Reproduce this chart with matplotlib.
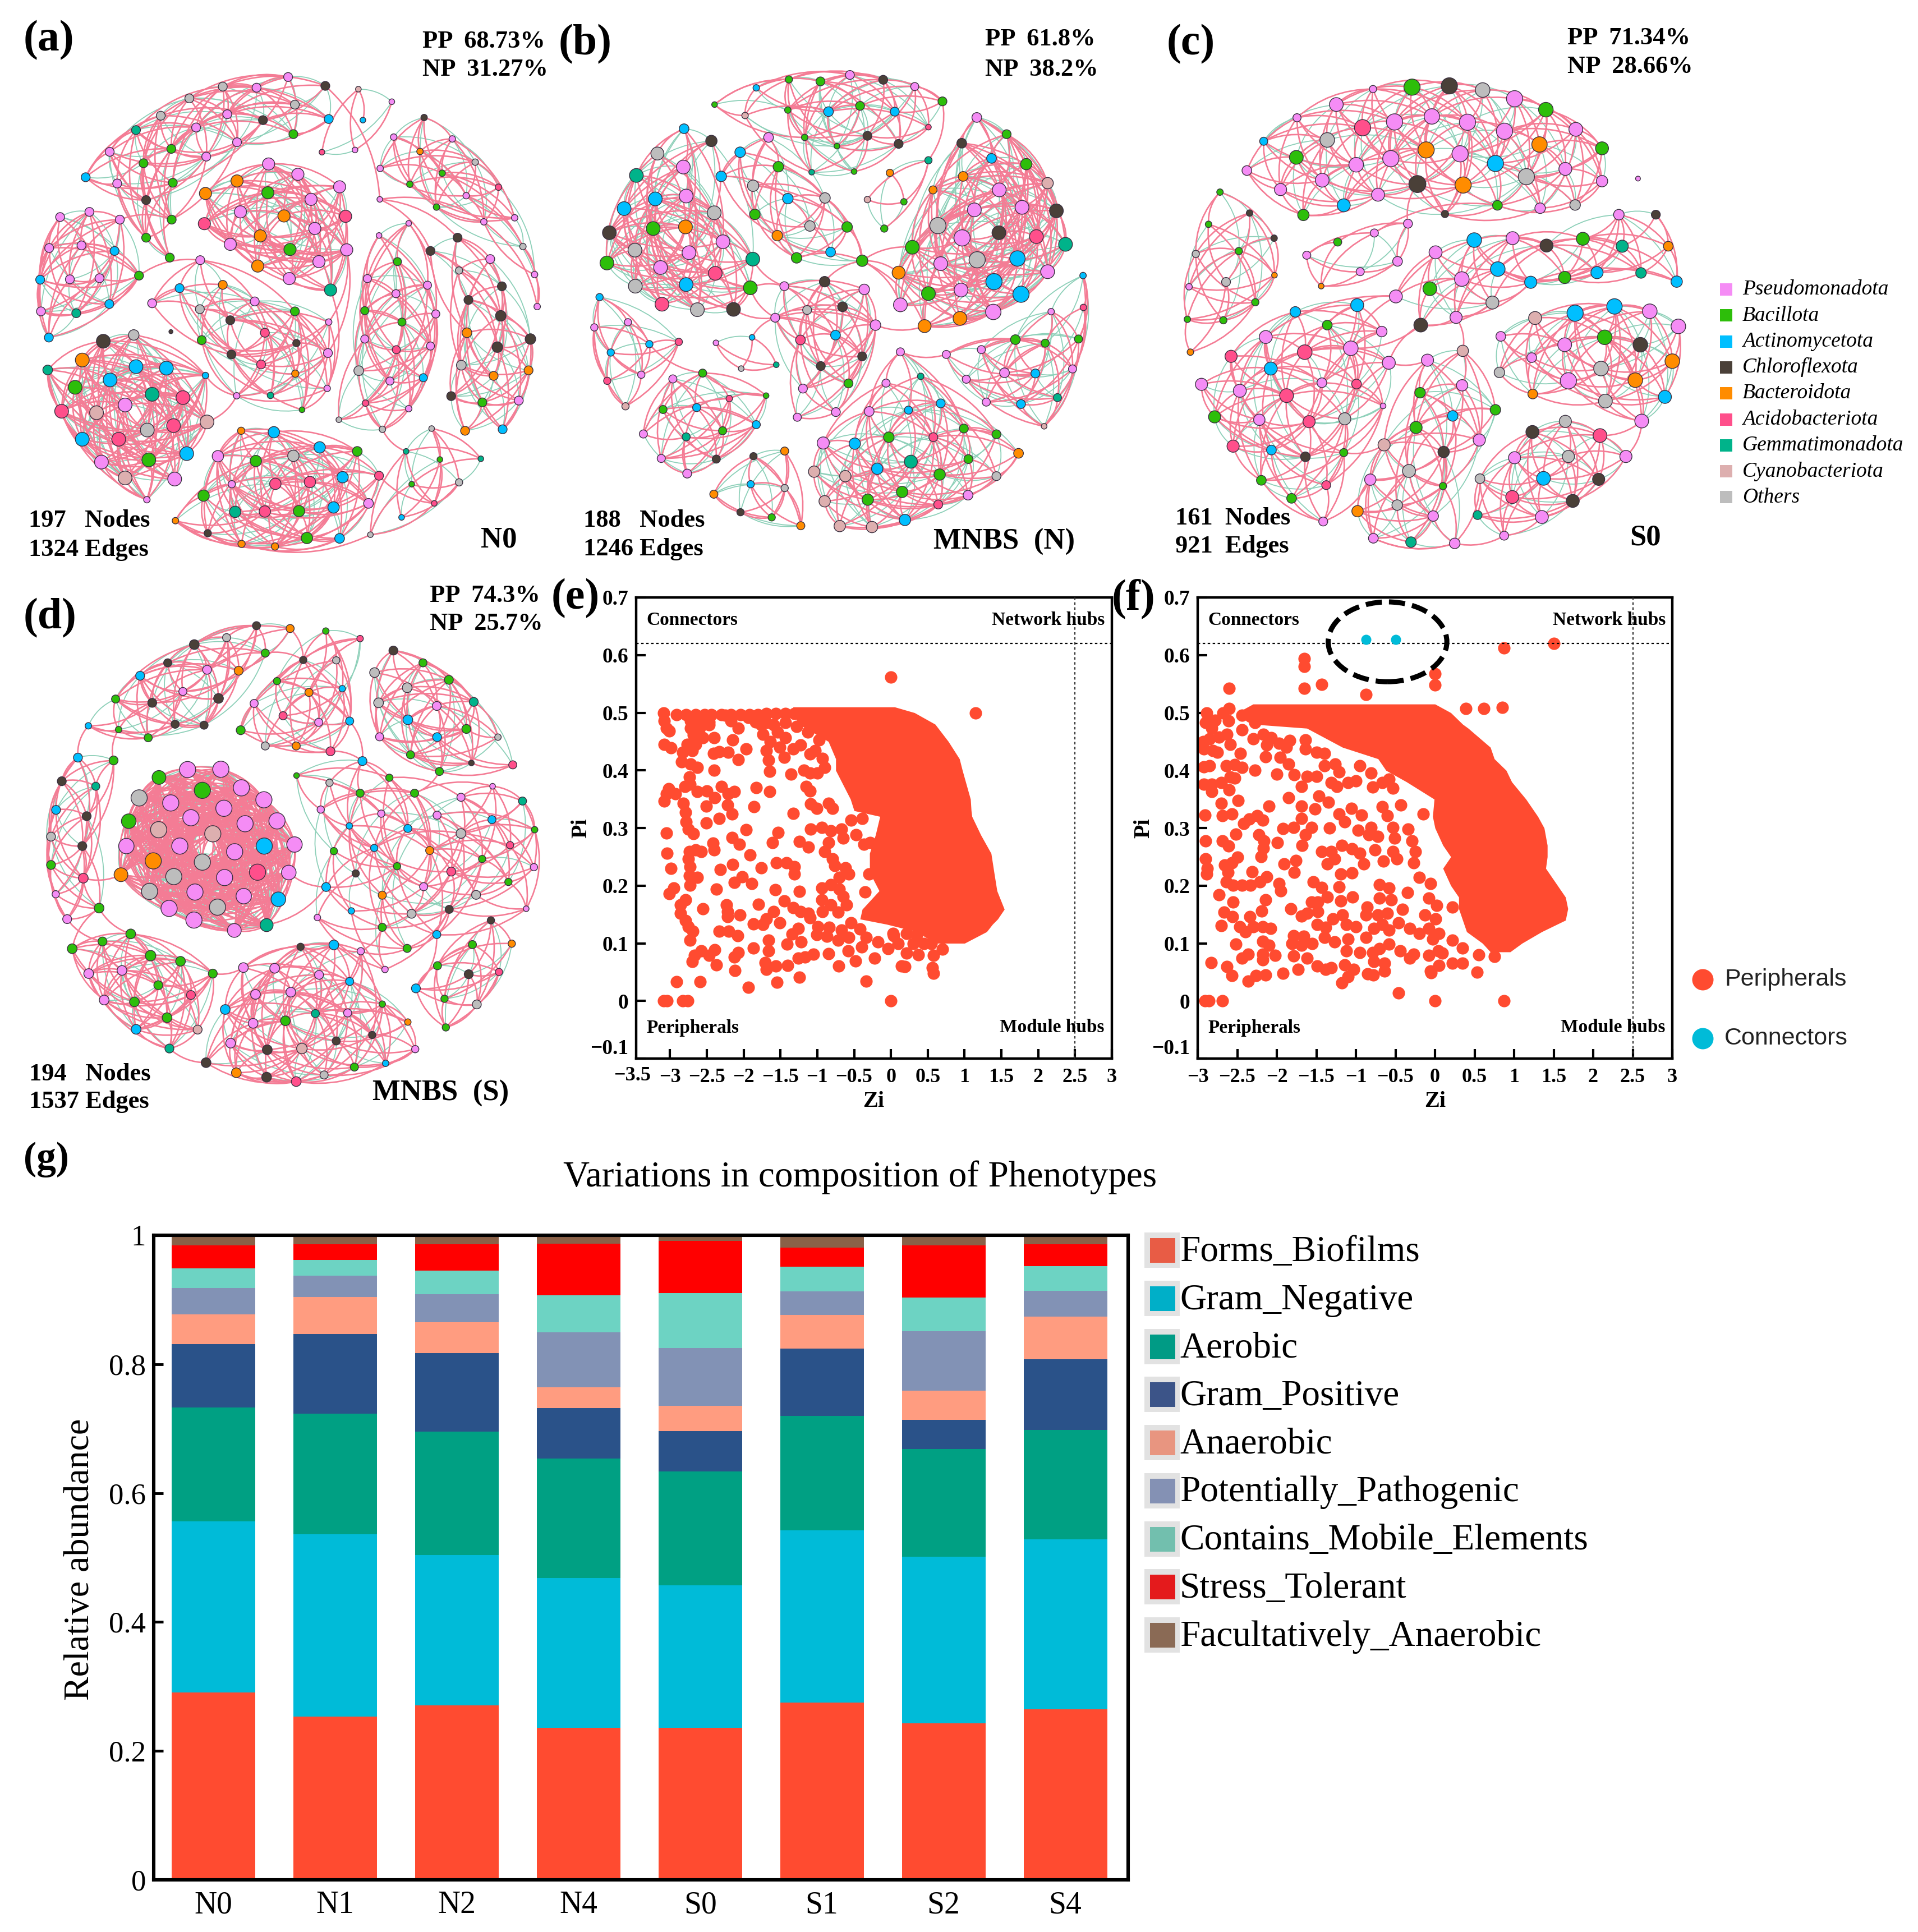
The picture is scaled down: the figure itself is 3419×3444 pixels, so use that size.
import numpy as np
import matplotlib
matplotlib.use("Agg")
import matplotlib.pyplot as plt
from matplotlib.path import Path
from matplotlib.collections import PathCollection
from matplotlib.patches import Ellipse, Rectangle

W, H = 3419, 3444
plt.rcParams['font.family'] = ['Liberation Serif', 'DejaVu Sans']

# ---------- phenotype data ----------
samples = ["N0", "N1", "N2", "N4", "S0", "S1", "S2", "S4"]
phenotypes = ["Forms_Biofilms", "Gram_Negative", "Aerobic", "Gram_Positive", "Anaerobic",
              "Potentially_Pathogenic", "Contains_Mobile_Elements", "Stress_Tolerant", "Facultatively_Anaerobic"]
forms_biofilms = [.291, .253, .271, .236, .236, .275, .243, .265]
gram_negative = [.265, .283, .233, .232, .221, .267, .258, .263]
aerobic = [.177, .187, .191, .186, .177, .178, .167, .170]
gram_positive = [.098, .124, .122, .078, .062, .104, .046, .110]
anaerobic = [.046, .057, .048, .032, .039, .052, .045, .066]
pot_pathogenic = [.041, .033, .044, .085, .090, .037, .092, .040]
mobile_elements = [.031, .025, .036, .058, .085, .038, .052, .038]
stress_tolerant = [.035, .024, .041, .080, .081, .030, .081, .034]
fac_anaerobic = [.016, .014, .014, .013, .009, .019, .016, .014]
pheno_values = [forms_biofilms, gram_negative, aerobic, gram_positive, anaerobic,
                pot_pathogenic, mobile_elements, stress_tolerant, fac_anaerobic]
bar_colors = ['#FF4B30', '#00BBD8', '#00A083', '#2A5289', '#FF9C80', '#8292B5', '#6DD3C3', '#FF0000', '#8A6148']
legend_colors = ['#E85C45', '#00AFC8', '#009B85', '#3C5488', '#E89580', '#8491B4', '#72BFAE', '#E41A1C', '#8A6A55']

# ---------- taxa ----------
taxa = ["Pseudomonadota", "Bacillota", "Actinomycetota", "Chloroflexota", "Bacteroidota",
        "Acidobacteriota", "Gemmatimonadota", "Cyanobacteriota", "Others"]
taxa_colors = dict(P='#F58CF5', B='#2DBE0A', A='#00BFFF', C='#4A4038', O='#FF8C00',
                   R='#FF4F8B', G='#00B38A', Y='#DDAFAF', X='#BDBDBD')
taxa_codes = "PBACORGYX"

# ---------- networks: each module = (node radius, edge density /10, nodes) ----------
net_a = [
 (11, 6, [(767,209,'P'),(866,233,'C'),(683,238,'P'),(593,235,'X'),(504,267,'X'),(785,284,'X'),(605,310,'P'),(428,314,'X'),(700,326,'C'),(875,323,'A'),(522,346,'P'),(362,353,'G'),(781,364,'B'),(631,386,'P'),(456,404,'B'),(549,425,'P'),(292,412,'P'),(382,443,'B'),(228,481,'A'),(312,498,'P'),(460,496,'B'),(389,543,'C'),(457,596,'B'),(389,645,'B'),(452,699,'B')]),
 (15, 9, [(715,445,'P'),(793,473,'P'),(904,507,'P'),(631,491,'O'),(547,525,'O'),(713,523,'B'),(828,541,'P'),(640,575,'P'),(756,586,'O'),(920,587,'R'),(544,607,'R'),(693,640,'O'),(838,620,'P'),(613,663,'P'),(772,677,'B'),(923,678,'P'),(849,710,'P'),(686,722,'O'),(770,756,'P'),(880,787,'G')]),
 (11, 6, [(238,575,'P'),(160,589,'P'),(319,596,'P'),(131,673,'P'),(217,666,'P'),(305,681,'A'),(107,759,'A'),(186,758,'P'),(265,755,'P'),(370,748,'B'),(109,845,'P'),(203,850,'G'),(291,825,'A'),(130,916,'A')]),
 (11, 5, [(533,706,'P'),(593,773,'O'),(478,782,'A'),(405,823,'P'),(678,818,'P'),(532,839,'X'),(613,869,'C'),(537,923,'B'),(705,903,'R'),(616,962,'C'),(695,989,'R'),(785,845,'B'),(875,874,'P',8),(789,931,'C',9),(873,958,'P'),(786,1014,'O',9),(630,1074,'P',8),(720,1073,'G',8),(871,1054,'P',8),(804,1112,'B',7)]),
 (7, 5, [(954,242,'Y'),(1043,276,'P'),(966,326,'A'),(945,407,'P'),(857,413,'R')]),
 (8, 6, [(1129,319,'C'),(1048,372,'P'),(1204,377,'P'),(1118,411,'O'),(1012,457,'P'),(1265,440,'X'),(1177,470,'B'),(1091,500,'B'),(1327,508,'R'),(1241,531,'P'),(1162,562,'B'),(1288,602,'P'),(1370,591,'P'),(1392,669,'X'),(1423,745,'P'),(1430,832,'P')]),
 (10, 6, [(1088,606,'P',7),(1009,639,'P',7),(1058,710,'B'),(978,756,'P'),(1138,774,'P'),(1054,797,'P'),(971,843,'B'),(1160,852,'P'),(1070,874,'B'),(971,920,'P'),(1146,939,'P'),(1055,949,'R'),(955,1006,'X',12),(1038,1034,'P'),(1127,1025,'A'),(973,1094,'R',8),(1088,1109,'P',8),(902,1139,'X',7),(1018,1165,'X',8)]),
 (11, 6, [(1218,645,'C'),(1146,681,'C'),(1305,703,'P'),(1222,734,'X',9),(1336,777,'C'),(1247,814,'C'),(1333,857,'C',13),(1243,903,'O',12),(1412,920,'C',13),(1324,942,'C',13),(1228,991,'X',12),(1407,1005,'O'),(1314,1020,'O'),(1201,1075,'C'),(1381,1087,'P'),(1284,1092,'B'),(1238,1169,'O'),(1338,1165,'A')]),
 (7, 5, [(1149,1163,'X'),(1081,1225,'G'),(1171,1247,'B'),(1280,1245,'G'),(1222,1309,'X',9),(1096,1314,'B'),(1156,1366,'R'),(1069,1404,'A'),(986,1451,'X')]),
 (17, 9, [(275,926,'C'),(356,909,'X',13),(127,1004,'G',12),(219,977,'O'),(362,995,'A'),(443,999,'A'),(293,1031,'A'),(200,1051,'B'),(405,1070,'G'),(487,1079,'R'),(333,1099,'P'),(164,1116,'R'),(257,1120,'Y'),(462,1155,'R'),(392,1167,'X'),(551,1145,'Y'),(219,1192,'A'),(316,1192,'R'),(497,1231,'A'),(270,1254,'P'),(396,1248,'B'),(333,1297,'Y'),(465,1300,'P'),(391,1356,'P',8),(547,1019,'A',8)]),
 (14, 6, [(642,1169,'O',9),(729,1173,'A'),(851,1214,'A'),(580,1238,'P'),(681,1251,'B'),(781,1237,'X'),(951,1225,'B',12),(912,1295,'A'),(733,1313,'R'),(825,1308,'R'),(617,1314,'P',9),(1009,1291,'R',11),(542,1345,'B'),(626,1389,'G'),(705,1388,'R'),(796,1387,'B'),(888,1377,'A'),(981,1366,'P',12),(467,1413,'O',8),(553,1447,'C',9),(643,1476,'O',9),(732,1483,'O',9),(817,1460,'B'),(904,1461,'A',12)]),
 (5, 0, [(455,900,'C')]),
 (7, 0, [(1011,541,'P')]),
]
links_a = [(866,233,1011,541),(1011,541,1218,645),(1011,541,1146,681),(1081,1225,1018,1165),(880,787,871,1054),(923,678,875,874),(923,678,873,958),(544,607,613,663),(319,596,457,596),(370,748,533,706),(1009,1291,1156,1366),(1069,1404,1222,1309),(405,823,478,782),(547,1019,630,1074),(551,1145,630,1074),(1011,541,1288,602),(553,1447,732,1483),(467,1413,817,1460),(643,1476,986,1451),(132,916,265,755)]
net_b = [
 (9, 6, [(650,90,'B'),(740,96,'B',11),(824,76,'P',11),(919,91,'C',11),(1009,112,'P',10),(1088,158,'B',11),(557,116,'A',8),(438,168,'B',7),(853,172,'B',11),(763,190,'A',12),(952,190,'A',11),(647,185,'B',8),(525,202,'Y',8),(1048,238,'R',7),(874,265,'C',11),(963,290,'C',11),(695,270,'B',8),(787,297,'B',7),(836,376,'B',7),(715,378,'G',7)]),
 (17, 9, [(351,243,'A',12),(429,281,'C',14),(275,320,'X',16),(349,362,'P'),(215,388,'G'),(357,452,'P'),(269,461,'A'),(180,491,'A'),(437,504,'X'),(138,566,'C'),(263,553,'B'),(355,548,'O'),(462,594,'P'),(211,620,'X'),(365,628,'P'),(131,660,'B'),(284,674,'P'),(440,692,'R'),(547,648,'G'),(212,732,'X'),(357,727,'A'),(540,737,'B'),(288,788,'R'),(389,805,'X'),(492,804,'C')]),
 (12, 6, [(592,270,'P'),(511,316,'A',13),(620,361,'B',13),(457,391,'A',13),(548,420,'X',14),(647,460,'A',13),(753,458,'X',13),(553,509,'B',13),(710,545,'X',13),(816,548,'B',13),(617,575,'O',13),(769,626,'A',12),(672,644,'B',13),(859,653,'B',14)]),
 (11, 7, [(637,732,'P'),(752,718,'C',13),(865,742,'P',13),(702,806,'X'),(803,796,'C',12),(611,830,'P'),(897,853,'P',13),(683,899,'R',12),(783,884,'A',12),(859,950,'C'),(741,980,'C'),(820,1034,'B'),(690,1050,'P'),(674,1139,'P',10),(784,1123,'P')]),
 (17, 9, [(1186,208,'P',12),(1271,260,'B',11),(1143,288,'C',12),(1228,335,'A',12),(1327,353,'B',14),(1147,391,'O',12),(1388,412,'Y',14),(1250,433,'P'),(1061,433,'O',10),(1179,495,'P'),(1315,487,'P'),(1413,498,'C'),(1075,544,'X',20),(1249,566,'C'),(1144,582,'P',20),(1356,578,'R'),(1439,602,'G'),(1002,611,'B'),(1187,650,'X',20),(1302,646,'A',19),(1083,662,'P'),(963,690,'O',16),(1388,687,'P'),(1235,718,'A',20),(1141,744,'P'),(1048,755,'B'),(1312,757,'A',20),(968,790,'P'),(1233,812,'P',19),(1138,832,'O'),(1037,856,'O',16)]),
 (8, 7, [(1048,341,'G',9),(938,380,'O',9),(874,463,'Y',8),(978,470,'B',8),(922,553,'B',9)]),
 (9, 7, [(110,766,'A'),(95,860,'P'),(191,844,'P'),(252,912,'A'),(142,938,'A'),(336,905,'R'),(229,1007,'P'),(132,1026,'R'),(184,1105,'Y')]),
 (10, 6, [(404,1002,'B'),(319,1020,'P'),(480,1081,'R',8),(387,1109,'A'),(291,1115,'B'),(557,1162,'A'),(461,1181,'B'),(235,1191,'P'),(357,1200,'G'),(443,1269,'C'),(286,1267,'P'),(360,1314,'P',11),(585,1072,'B',7)]),
 (7, 8, [(442,908,'P'),(545,891,'A'),(614,976,'G'),(514,988,'X')]),
 (10, 6, [(1489,699,'A',8),(1398,811,'P',8),(1490,798,'R',8),(1099,944,'P'),(1199,929,'P'),(1296,898,'B',12),(1381,909,'B'),(1476,896,'B'),(1265,1001,'P',12),(1353,1003,'A',11),(1459,989,'P'),(1156,1021,'P'),(1213,1092,'P'),(1312,1098,'A',11),(1416,1078,'G'),(1378,1167,'Y',7)]),
 (9, 7, [(549,1260,'C'),(638,1244,'O',10),(541,1347,'A'),(638,1359,'X'),(436,1378,'O',10),(512,1434,'C'),(601,1450,'B'),(684,1476,'O',10)]),
 (13, 6, [(968,936,'P',10),(1026,1012,'G',8),(927,1033,'P',10),(879,1121,'P',12),(991,1117,'A',10),(1083,1096,'A',11),(1062,1201,'R',11),(1149,1174,'B',11),(1242,1192,'B',11),(935,1201,'B'),(748,1219,'P',15),(838,1221,'A',14),(1305,1251,'O',12),(998,1277,'G',16),(1162,1269,'B',11),(902,1299,'A',14),(722,1308,'Y',14),(811,1322,'Y',14),(1080,1317,'B',14),(1242,1322,'X',11),(973,1371,'B',14),(875,1395,'B',14),(752,1400,'Y',14),(1161,1381,'P',12),(1076,1410,'R',11),(981,1458,'A',14),(795,1477,'Y',14),(887,1480,'Y',14)]),
]
links_b = [(859,653,963,690),(859,653,968,790),(859,653,1037,856),(540,737,637,732),(492,804,611,830),(547,648,637,732),(1099,944,968,936),(611,830,545,891),(683,899,611,830),(1002,611,859,653),(816,548,859,653),(438,168,650,90),(1088,158,1048,341),(859,653,672,644),(540,737,611,830),(859,653,752,718),(897,853,1037,856),(1489,699,1378,1167),(404,1002,252,912),(585,1072,404,1002)]
net_c = [
 (17, 7, [(613,85,'P',9),(729,79,'B',20),(840,75,'C',20),(939,88,'X',18),(1034,115,'P',20),(1127,149,'B',18),(504,133,'P',17),(387,174,'P',10),(582,205,'R',20),(677,187,'P',20),(788,170,'P',19),(894,188,'P',20),(1004,216,'P',20),(1216,210,'P',17),(477,243,'X',18),(288,247,'A',10),(771,274,'O',20),(872,286,'P',20),(1108,257,'O',19),(1294,269,'B',16),(385,297,'B',17),(666,301,'P',20),(563,320,'P',18),(977,316,'A',20),(238,338,'P',12),(1185,333,'P',16),(462,368,'P',17),(338,397,'P',15),(745,380,'C',21),(881,383,'O',20),(1069,357,'X',20),(1294,371,'P',14),(628,413,'P',16),(526,446,'A',16),(406,476,'B',14),(983,446,'B',12),(1110,455,'P',13),(1214,445,'X',13),(827,473,'C',9)]),
 (8, 5, [(158,405,'B'),(246,470,'C'),(124,505,'B'),(86,597,'X',9),(319,548,'C'),(214,588,'B',9),(320,663,'O',7),(176,684,'X',11),(66,699,'P'),(263,747,'B',9),(61,800,'B'),(168,803,'B',9),(70,902,'O')]),
 (9, 6, [(717,503,'P',11),(617,532,'P',10),(508,560,'B',10),(416,601,'P',10),(686,620,'P',12),(575,652,'P',10),(459,697,'O',7)]),
 (13, 6, [(1344,475,'P'),(1454,475,'C',11),(1237,550,'B',16),(1028,548,'P',16),(914,554,'A',18),(1129,571,'C',16),(1354,573,'G',15),(1491,573,'O',12),(799,592,'P',16),(984,644,'A',18),(1183,670,'B',15),(1279,655,'A',15),(1410,656,'G',13),(1082,685,'A',15),(1516,683,'A',14),(877,675,'P',18),(782,705,'B',17),(681,729,'P',16),(968,748,'X',16),(860,794,'P',15),(755,818,'C',17)]),
 (13, 6, [(566,756,'A',16),(382,777,'A',13),(477,818,'B',12),(639,838,'P',13),(294,855,'P',16),(547,890,'P',18),(410,902,'R',18),(191,915,'R',15),(660,935,'P',16),(309,953,'A',16),(103,1002,'P',15),(461,997,'P',12),(564,1001,'R',12),(217,1022,'P',16),(356,1037,'R',17),(142,1103,'B',15),(275,1112,'P',14),(529,1109,'X',15),(423,1118,'R',15),(197,1194,'R',15),(311,1206,'A',12),(526,1214,'B',10),(412,1227,'C',12),(281,1300,'B',12),(474,1315,'R',11),(371,1356,'B',12),(465,1428,'P',11),(643,1069,'P',7)]),
 (13, 7, [(880,898,'Y',14),(775,927,'P',15),(878,1005,'P',14),(753,1028,'B',13),(977,1081,'B',13),(850,1100,'A',13),(741,1136,'B',15),(929,1175,'P',15),(646,1190,'Y',15),(823,1212,'C',14),(720,1271,'X',16),(605,1298,'P',14),(821,1318,'B',9),(685,1377,'X',13),(567,1396,'O',14),(792,1411,'P',13),(614,1480,'P',12),(726,1492,'G',13),(856,1496,'P',13)]),
 (16, 8, [(1095,796,'Y'),(1214,781,'A',20),(1331,760,'A',19),(1436,775,'P',18),(1521,822,'P',18),(993,853,'P',12),(1183,879,'P',17),(1302,856,'B',18),(1408,879,'C',18),(1085,919,'P',12),(1503,930,'O',18),(989,965,'X',13),(1291,953,'X',18),(1194,991,'P',20),(1393,989,'O',18),(1088,1032,'O',12),(1304,1054,'X',17),(1481,1041,'A',16),(1412,1116,'P',17)]),
 (14, 8, [(1185,1117,'X',15),(1087,1150,'C',16),(1288,1161,'R',17),(1034,1230,'P',15),(1194,1226,'X',15),(1365,1226,'P',15),(1120,1294,'A',17),(1284,1297,'C',15),(931,1295,'X',12),(1027,1352,'R',16),(1207,1364,'C',16),(924,1408,'G',11),(1115,1414,'P',16),(1003,1472,'P',11)]),
 (6, 0, [(1401,363,'P')]),
]
links_c = [(745,380,717,503),(827,473,745,380),(717,503,686,620),(717,503,617,532),(983,446,617,532),(1412,1116,1288,1161),(566,756,681,729),(660,935,755,818),(547,890,681,729),(775,927,660,935),(856,1496,1003,1472),(856,1496,931,1295),(465,1428,605,1298),(646,1190,526,1214),(968,748,1082,685),(529,1109,660,935),(860,794,880,898),(755,818,547,890),(1412,1116,1365,1226),(614,1480,856,1496),(681,729,294,855),(1516,683,1082,685)]
net_d = [
 (10, 7, [(696,63,'C'),(796,72,'O'),(607,101,'X'),(511,123,'C',12),(722,150,'B'),(432,181,'C'),(549,203,'P',11),(643,206,'O',11),(350,222,'A',11),(477,272,'P'),(277,296,'B'),(583,294,'C',12),(386,308,'C',11),(196,381,'A',8),(286,393,'B',8),(454,376,'C'),(540,379,'C'),(374,419,'B')]),
 (20, 10, [(491,520,'P'),(590,519,'P'),(406,545,'B',17),(535,586,'B'),(651,578,'P'),(347,610,'X'),(718,616,'P'),(441,626,'P'),(599,643,'P'),(501,673,'P'),(316,684,'B',18),(662,692,'P'),(757,683,'P'),(405,711,'Y'),(566,724,'Y'),(309,763,'P',19),(468,763,'P'),(719,763,'A'),(809,758,'P',19),(631,781,'P'),(389,810,'O'),(535,814,'X'),(293,854,'O',17),(792,847,'P',18),(699,846,'R'),(450,860,'X'),(601,863,'P'),(378,907,'X'),(513,909,'P'),(658,922,'P',19),(761,932,'A',18),(436,961,'P'),(580,957,'X'),(510,998,'P'),(726,1014,'G',16),(630,1031,'P',17)]),
 (11, 8, [(165,482,'A'),(271,491,'B'),(117,557,'C'),(218,573,'G',10),(100,648,'A'),(191,668,'C'),(85,733,'X'),(178,763,'C'),(85,823,'B'),(181,865,'R',12),(99,916,'P',9),(228,960,'B',12),(133,995,'P')]),
 (11, 8, [(322,1042,'B',12),(238,1066,'B'),(148,1089,'B',12),(381,1111,'B',13),(470,1129,'B',12),(296,1158,'P',12),(197,1168,'P',12),(566,1168,'B'),(404,1205,'B',11),(501,1236,'R'),(243,1252,'P',12),(333,1258,'B',12),(430,1308,'B',12),(338,1345,'A',12),(521,1346,'Y'),(437,1406,'G')]),
 (12, 6, [(827,1083,'C',9),(926,1077,'A'),(1006,1097,'P',9),(657,1149,'P'),(750,1151,'P'),(882,1172,'P',11),(973,1193,'A',10),(693,1234,'P'),(798,1227,'P'),(603,1282,'A'),(871,1295,'G',10),(967,1293,'P',10),(782,1318,'B'),(686,1326,'P'),(1070,1265,'B',8),(1146,1322,'O',8),(1040,1363,'C',9),(933,1382,'C',10),(619,1389,'P'),(728,1410,'C'),(831,1406,'Y',13),(1168,1408,'P',9),(546,1451,'C'),(1080,1453,'A',8),(636,1483,'O'),(726,1497,'C'),(814,1511,'R'),(897,1490,'X',10),(987,1465,'B',10)]),
 (9, 5, [(902,80,'B',8),(1004,104,'R',8),(933,173,'X',9),(835,172,'C'),(951,263,'A',8),(757,239,'B'),(852,275,'O',10),(689,310,'P',10),(775,349,'R',10),(881,370,'P',10),(973,366,'A',10),(649,395,'B',11),(722,445,'X',10),(814,445,'O',10),(916,462,'R',11)]),
 (10, 6, [(1103,142,'C',11),(1191,181,'B'),(1047,212,'X',12),(1268,235,'B',11),(1144,260,'X',12),(1059,308,'X',12),(1342,305,'G',11),(1232,318,'P',11),(1146,362,'A',12),(1320,391,'B',11),(1062,416,'P'),(1233,417,'A',11),(1414,417,'X',8),(1154,473,'B'),(1335,499,'C',7),(1458,505,'R'),(1240,526,'B')]),
 (9, 3, [(1011,493,'A',11),(815,539,'B',7),(913,562,'X'),(1091,546,'B'),(1004,595,'B',10),(1166,595,'B',10),(887,647,'P'),(1067,660,'P'),(1233,665,'P',10),(1398,573,'P',7),(1304,608,'P',10),(1487,620,'G',10),(972,699,'A',8),(1146,707,'A',10),(1396,679,'A',10),(1304,723,'X',12),(1523,711,'B',8),(926,779,'B'),(1046,769,'A'),(1211,777,'O',10),(1450,760,'R'),(1367,804,'B'),(1114,827,'B'),(991,850,'C'),(1275,844,'R',11),(1521,830,'P'),(1445,877,'B'),(1193,892,'P',10),(903,893,'A',11),(1070,919,'O',10),(1349,918,'X',11),(1498,962,'P',7),(877,990,'P',8),(978,969,'A',8),(1157,978,'X',11),(1269,964,'C',10),(1070,1021,'B',10),(1232,1044,'A',10),(1144,1088,'B',10),(1078,1155,'P',8)]),
 (9, 7, [(1393,999,'C'),(1338,1076,'B',10),(1455,1073,'O'),(1234,1143,'B',10),(1327,1170,'C',11),(1417,1163,'R'),(1170,1215,'A',11),(1255,1248,'B'),(1351,1266,'X',11),(1259,1339,'B')]),
]
links_d = [(293,854,181,865),(133,995,238,1066),(228,960,148,1089),(228,960,322,1042),(271,491,286,393),(165,482,196,381),(726,1014,903,893),(792,847,903,893),(566,1168,657,1149),(437,1406,546,1451),(796,72,835,172),(722,150,835,172),(1070,1021,1006,1097),(1006,1097,926,1077),(1144,1088,1232,1044),(951,263,973,366),(973,366,1011,493),(916,462,1011,493),(1240,526,1166,595),(827,1083,926,1077),(1146,1322,1070,1265),(1170,1215,1232,1044),(1070,1021,1269,964),(1004,1097,1144,1088)]
np_percent = dict(a=31.27, b=38.2, c=28.66, d=25.7)

# ---------- Zi-Pi data (Zi, Pi) ----------
e_points = [(-3.09,.50),(-3.08,.486),(-3.05,.473),(-3.01,.468),(-3.08,.445),(-2.99,.439),
 (-2.91,.497),(-2.78,.497),(-2.65,.497),(-2.53,.497),(-2.44,.497),(-2.30,.497),(-2.17,.497),(-2.04,.497),(-1.92,.497),(-1.81,.497),(-1.69,.499),(-1.56,.499),(-1.43,.499),(-1.31,.499),
 (-2.72,.486),(-2.60,.486),(-2.47,.484),(-2.72,.473),(-2.60,.473),(-2.47,.479),(-2.68,.462),(-2.55,.457),(-2.40,.457),(-2.77,.445),(-2.65,.445),(-2.17,.486),(-2.07,.473),(-2.15,.453),(-2.25,.496),(-1.76,.479),(-1.69,.483),(-1.74,.463),(-1.64,.45),(-1.69,.434),(-1.66,.418),(-1.65,.398),(-1.54,.466),(-1.43,.457),(-1.51,.44),(-1.45,.423),(-1.33,.437),(-1.23,.444),(-1.10,.428),(-1.03,.434),(-.93,.421),(-.90,.405),(-1.0,.395),(-1.10,.395),(-1.18,.40),(-1.36,.393),(-1.84,.484),(-1.94,.492),(-1.59,.479),(-1.43,.483),(-1.28,.476),(-1.13,.466),(-.98,.453),
 (-3.02,.368),(-3.05,.359),(-3.08,.347),(-2.93,.359),(-2.82,.343),(-2.79,.327),(-2.78,.311),(-2.75,.298),(-2.68,.29),(-2.80,.372),(-2.73,.376),(-2.63,.363),(-2.50,.364),(-2.39,.353),(-2.30,.372),(-2.21,.359),(-2.13,.363),(-2.22,.34),(-2.16,.324),(-2.51,.338),(-2.51,.309),(-2.33,.317),
 (-2.83,.431),(-2.70,.434),(-2.84,.415),(-2.72,.411),(-2.63,.405),(-2.74,.389),(-2.40,.40),(-2.41,.429),(-2.33,.432),(-2.21,.431),(-2.07,.419),(-1.97,.437),(-1.83,.37),(-1.65,.363),(-1.86,.337),(-1.33,.325),
 (-1.15,.372),(-1.10,.364),(-1.09,.342),(-1.01,.334),(-.85,.343),(-.79,.334),(-3.05,.291),(-1.97,.297),(-1.53,.292),(-1.61,.275),(-2.16,.283),(-2.06,.272),(-1.24,.277),(-1.12,.267),(-1.09,.298),(-.94,.301),(-.82,.295),(-.67,.298),(-.54,.314),(-.39,.317),(-.65,.282),(-.47,.288),(-.37,.272),(-.85,.275),(-.90,.259),(-.79,.246),(-.76,.235),(-.62,.231),(-.57,.22),(-.70,.214),(-.28,.275),
 (-3.04,.256),(-2.99,.23),(-2.42,.274),(-2.40,.262),(-2.58,.259),(-2.74,.259),(-2.65,.262),(-2.75,.246),(-2.73,.233),(-2.74,.217),(-2.63,.214),(-2.73,.201),(-2.32,.228),(-2.15,.237),(-1.91,.253),(-1.76,.231),(-1.555,.24),(-1.42,.24),(-1.31,.233),(-1.31,.22),
 (-2.95,.196),(-3.01,.186),(-2.37,.194),(-2.13,.206),(-2.02,.215),(-1.89,.204),(-1.57,.193),(-1.24,.19),(-.35,.189),(-.30,.22),
 (-.94,.196),(-.82,.202),(-.70,.194),(-.65,.181),(-.94,.175),(-.93,.155),(-.82,.167),(-.72,.154),(-.60,.167),(-2.79,.175),(-2.86,.167),(-2.86,.152),(-2.79,.139),(-2.75,.129),(-2.69,.121),(-2.73,.105),(-2.55,.16),(-2.23,.167),(-2.22,.155),(-2.22,.146),(-2.05,.149),(-1.80,.168),(-1.45,.173),(-1.59,.155),(-1.69,.142),(-1.33,.162),(-1.23,.155),(-1.12,.152),(-1.51,.136),(-1.74,.133),(-1.87,.134),(-2.33,.121),(-2.20,.121),(-2.08,.113),
 (-1.10,.144),(-.84,.128),(-.99,.129),(-1.01,.115),(-.87,.112),(-.67,.123),(-.54,.136),(-.72,.105),(-.57,.11),(-.42,.125),(-.34,.11),(-.18,.102),(-.04,.091),(.04,.113),(-.58,.087),(-.48,.069),(-.40,.094),(-.22,.074),(-.71,.061),(-.85,.082),
 (-1.26,.126),(-1.34,.116),(-1.22,.102),(-1.41,.099),(-1.05,.081),(-1.17,.076),(-1.26,.074),(-1.40,.062),(-1.56,.061),(-1.71,.066),(-1.69,.055),(-1.66,.105),(-1.66,.087),(-1.87,.092),
 (-2.39,.089),(-2.58,.087),(-2.67,.079),(-2.70,.068),(-2.47,.079),(-2.37,.063),(-2.07,.084),(-2.13,.076),(-2.12,.053),(-2.91,.033),(-2.59,.033),(-1.94,.024),(-1.55,.032),(-1.24,.041),(-.34,.034),
 (.19,.06),(.21,.083),(.37,.08),(.58,.079),(.56,.058),(.58,.048),(.21,.117),(.35,.114),(.03,.117),(.45,.10),(.7,.09),(.55,.1),(.3,.1),(.14,.061),(.1,.1),
 (-3.09,0),(-3.04,0),(-2.83,0),(-2.76,0),(0,0),(0,.562),(1.15,.5)]
e_dense_pi = [.51,.50,.48,.45,.42,.40,.35,.33,.32,.288,.256,.223,.191,.159,.142,.133,.12,.10]
e_dense_left = [-1.33,-1.33,-1.25,-.85,-.75,-.75,-.55,-.5,-.15,-.21,-.29,-.29,-.16,-.39,-.42,-.06,.35,.6]
e_dense_right = [.05,.32,.6,.78,.93,.97,1.08,1.09,1.10,1.22,1.36,1.40,1.44,1.54,1.45,1.38,1.3,1.0]

f_points = [(-1.65,.594),(-1.65,.58),(-1.65,.542),(-1.43,.549),(-2.6,.542),(-.87,.532),(0,.568),(0,.548),(.39,.507),(.62,.507),(.85,.509),(.87,.612),(1.5,.62),(-.46,.014),(0,0),(.87,0),(-2.91,0),(-2.86,0),(-2.69,0),(-.05,.049),(.53,.05),
 (-2.89,.50),(-2.90,.483),(-2.68,.50),(-2.60,.507),(-2.78,.487),(-2.82,.473),(-2.61,.486),(-2.44,.496),(-2.33,.494),(-2.28,.483),(-2.44,.47),(-2.63,.463),(-2.73,.458),(-2.85,.455),(-2.93,.45),(-2.59,.445),(-2.75,.431),(-2.92,.437),(-2.81,.434),
 (-2.30,.455),(-2.17,.463),(-2.07,.457),(-2.13,.444),(-2.14,.424),(-1.97,.447),(-1.84,.452),(-1.88,.44),(-1.96,.423),(-1.85,.411),(-1.78,.392),(-2.0,.393),
 (-1.64,.437),(-1.50,.431),(-1.40,.429),(-1.64,.453),(-1.40,.408),(-1.26,.411),(-1.21,.397),(-1.31,.379),(-1.24,.372),(-1.10,.379),(-1.0,.382),(-.95,.408),(-.81,.395),(-.79,.371),(-.67,.379),(-1.62,.39),(-1.50,.39),(-1.69,.372),(-.53,.369),(-.58,.385),
 (-2.85,.408),(-2.92,.406),(-2.64,.408),(-2.53,.41),(-2.44,.405),(-2.28,.40),(-2.46,.429),(-2.92,.376),(-2.82,.376),(-2.82,.363),(-2.70,.379),(-2.59,.389),(-2.53,.387),(-2.60,.366),
 (-2.70,.343),(-2.49,.348),(-2.57,.324),(-2.69,.321),(-2.91,.322),(-2.10,.338),(-2.18,.314),(-2.25,.321),(-2.35,.316),(-2.42,.308),(-1.85,.353),(-1.69,.338),(-1.52,.333),(-1.47,.355),(-1.35,.345),(-1.21,.324),(-1.14,.311),(-1.06,.334),(-.93,.322),(-1.33,.30),(-.97,.296),(-1.69,.317),(-1.56,.301),(-1.92,.299),(-1.79,.301),(-1.64,.288),(-1.68,.27),(-.81,.301),(-.84,.288),(-.72,.285),(-.67,.337),(-.60,.321),(-.53,.301),(-.51,.282),(-.53,.259),(-.48,.246),(-.65,.243),(-.76,.262),(-.43,.34),(-.34,.298),(-.29,.278),(-.15,.324),(-.25,.259),(-.27,.24),(-.20,.214),(-.06,.204),(-.08,.178),
 (-2.90,.278),(-2.69,.278),(-2.61,.269),(-2.52,.289),(-2.23,.288),(-2.16,.278),(-2.17,.265),(-2.20,.25),(-1.99,.275),
 (-2.90,.246),(-2.88,.23),(-2.89,.22),(-2.50,.249),(-2.57,.24),(-2.66,.236),(-2.62,.223),(-2.64,.207),(-2.31,.224),(-2.13,.215),(-2.21,.207),(-2.33,.201),(-2.44,.201),(-2.55,.201),(-1.97,.204),(-1.95,.191),(-2.73,.184),(-2.55,.172),(-2.14,.175),(-2.19,.156),(-2.67,.154),(-2.56,.146),(-2.70,.131),(-2.34,.146),(-2.47,.129),(-2.40,.12),(-2.30,.129),(-2.18,.129),(-2.08,.126),
 (-1.91,.238),(-1.76,.244),(-1.78,.223),(-1.43,.259),(-1.31,.259),(-1.18,.27),(-1.05,.264),(-.95,.256),(-.90,.238),(-1.36,.238),(-1.27,.246),(-1.19,.22),(-1.05,.222),(-1.21,.198),(-1.19,.173),(-1.04,.18),(-1.54,.207),(-1.43,.197),(-1.36,.18),(-1.48,.172),(-1.56,.172),(-1.48,.155),(-1.82,.16),(-1.69,.147),(-1.62,.152),
 (-.70,.202),(-.58,.196),(-.70,.178),(-.55,.175),(-.35,.188),(-.41,.159),(-.86,.163),(-.87,.149),(-.72,.149),(-.60,.152),(-.67,.133),(-.58,.123),(-.77,.126),
 (-1.17,.149),(-1.29,.142),(-1.49,.133),(-1.38,.128),(-1.0,.129),(-1.12,.133),(-1.40,.11),(-1.27,.102),(-1.10,.107),(-.87,.11),(-.58,.099),(-.70,.091),(-1.12,.087),(-.95,.084),(-.79,.084),(-.44,.087),(-.27,.081),(-.32,.074),(-.08,.079),(.04,.087),(-.06,.052),
 (-.46,.136),(-.32,.126),(-.20,.117),(-.08,.126),(.01,.142),(-.13,.149),(-.03,.107),
 (-1.79,.113),(-1.66,.112),(-1.81,.10),(-1.55,.10),(-1.69,.097),(-1.79,.078),(-1.62,.074),(-1.73,.055),(-1.49,.061),(-1.38,.055),(-1.31,.058),(-1.14,.063),(-1.03,.055),(-1.10,.042),(-1.18,.031),(-.85,.047),(-.77,.068),(-.64,.065),(-.64,.052),(-.78,.045),
 (-2.52,.099),(-2.44,.074),(-2.36,.081),(-2.18,.103),(-2.10,.097),(-2.18,.081),(-2.18,.071),(-2.02,.079),(-2.83,.066),(-2.63,.06),(-2.57,.044),(-2.36,.034),(-2.26,.044),(-2.14,.045),(-1.92,.048),
 (.09,.083),(.05,.062),(.22,.065),(.35,.065),(.55,.08),(.75,.077),(.05,.117),(.22,.105),(.35,.092),(.02,.166),(.22,.163)]
f_conn_zi = [-.87, -.5]
f_conn_pi = [.627, .627]
f_dense_pi = [.515,.50,.48,.473,.44,.42,.40,.38,.35,.32,.30,.27,.25,.23,.20,.18,.16,.14,.12,.10,.085]
f_dense_left = [-2.3,-2.5,-2.3,-1.62,-1.17,-.72,-.62,-.36,-.01,-.03,0,.1,.2,.1,.2,.3,.3,.35,.4,.6,.7]
f_dense_right = [0,.2,.35,.42,.7,.75,.9,.97,1.15,1.3,1.38,1.42,1.42,1.4,1.55,1.65,1.68,1.65,1.35,1.1,.95]

RED = '#FF4B30'
CYAN = '#00BBD8'
PINK = '#F47C95'
GREEN = '#8ED0B9'

fig = plt.figure(figsize=(W / 100, H / 100), dpi=100, facecolor='white')


def axes_px(x0, y0, x1, y1, **kw):
    return fig.add_axes([x0 / W, 1 - y1 / H, (x1 - x0) / W, (y1 - y0) / H], **kw)


ov = axes_px(0, 0, W, H)
ov.set_xlim(0, W)
ov.set_ylim(H, 0)
ov.axis('off')
ov.set_zorder(5)
ov.patch.set_alpha(0)


def t(x, y, s, size, weight='normal', ha='left', va='center', style='normal', family=None, **kw):
    ov.text(x, y, s, fontsize=size, fontweight=weight, ha=ha, va=va, style=style,
            family=family if family else ['Liberation Serif', 'DejaVu Sans'], **kw)


def arc(p, q, cen, bulge=0.2):
    d = np.hypot(*(q - p))
    mid = (p + q) / 2
    nrm = np.array([-(q - p)[1], (q - p)[0]]) / max(d, 1)
    if np.dot(nrm, mid - cen) < 0:
        nrm = -nrm
    return Path([p, mid + nrm * bulge * d, q], [Path.MOVETO, Path.CURVE3, Path.CURVE3])


def draw_network(crop, modules, links, np_pct):
    x0, y0, w, h = crop
    ax = axes_px(x0, y0, x0 + w, y0 + h)
    ax.set_xlim(0, 1568)
    ax.set_ylim(1568, 0)
    ax.axis('off')
    ax.patch.set_alpha(0)
    green, pink = [], []
    xs, ys, cs, ss = [], [], [], []
    for r, density, nodes in modules:
        pts = np.array([(n[0], n[1]) for n in nodes], float)
        cen = pts.mean(axis=0)
        limit = 1e9 if density >= 10 else (400 if density == 9 else 300)
        keep = 10 if density >= 10 else (7 if density == 9 else density + 2)
        for i in range(len(pts)):
            for j in range(i + 1, len(pts)):
                d = np.hypot(*(pts[j] - pts[i]))
                if d > limit or (i * 37 + j * 61) % 10 >= keep:
                    continue
                p = arc(pts[i], pts[j], cen)
                if (i * 11 + j * 23) % 100 < np_pct:
                    green.append(p)
                else:
                    pink.append(p)
        for n in nodes:
            xs.append(n[0])
            ys.append(n[1])
            cs.append(taxa_colors[n[2]])
            rr = n[3] if len(n) > 3 else r
            ss.append((2 * rr * 1.12 / 1.55 * 0.72) ** 2)
    cen_all = np.array([784., 784.])
    for x1, y1, x2, y2 in links:
        pink.append(arc(np.array([x1, y1], float), np.array([x2, y2], float), cen_all))
    ax.add_collection(PathCollection(green, facecolor='none', edgecolor=GREEN, linewidth=1.3, zorder=1))
    ax.add_collection(PathCollection(pink, facecolor='none', edgecolor=PINK, linewidth=1.9, zorder=2))
    ax.scatter(xs, ys, s=ss, c=cs, edgecolors='#3a3040', linewidths=1.0, zorder=3)
    return ax


draw_network((0, 0, 1050, 1030), net_a, links_a, np_percent['a'])
draw_network((1000, 90, 980, 900), net_b, links_b, np_percent['b'])
draw_network((2080, 110, 940, 900), net_c, links_c, np_percent['c'])
draw_network((40, 1080, 940, 880), net_d, links_d, np_percent['d'])

# panel letters
for (x, y, s) in [(42, 72, '(a)'), (996, 79, '(b)'), (2080, 79, '(c)'), (42, 1102, '(d)'),
                  (983, 1067, '(e)'), (1982, 1067, '(f)')]:
    t(x, y, s, 56, 'bold')
t(42, 2067, '(g)', 50, 'bold')

# network annotations
for (x, y1, y2, pp, npv) in [(753, 74, 124, '68.73%', '31.27%'), (1756, 70, 124, '61.8%', '38.2%'),
                            (2794, 68, 119, '71.34%', '28.66%'), (766, 1062, 1112, '74.3%', '25.7%')]:
    t(x, y1, 'PP  ' + pp, 32, 'bold')
    t(x, y2, 'NP  ' + npv, 32, 'bold')
for (x, y1, y2, a, b) in [(51, 928, 980, '197   Nodes', '1324 Edges'), (1040, 928, 979, '188   Nodes', '1246 Edges'),
                          (2095, 924, 974, '161  Nodes', '921  Edges'), (52, 1915, 1964, '194   Nodes', '1537 Edges')]:
    t(x, y1, a, 32, 'bold')
    t(x, y2, b, 32, 'bold')
for (x, y, s) in [(889, 962, 'N0'), (1790, 966, 'MNBS  (N)'), (2933, 958, 'S0'), (786, 1949, 'MNBS  (S)')]:
    t(x, y, s, 38, 'bold', ha='center')

# taxa legend
for k, (code, name) in enumerate(zip(taxa_codes, taxa)):
    yc = 516 + 46.3 * k
    ov.add_patch(Rectangle((3066, yc - 11), 22, 22, facecolor=taxa_colors[code], edgecolor='none'))
    t(3106, yc, name, 27, style='italic')


def zipi(ax_box, xlim, xticks, points, dpi_, dleft, dright, lab_x, pi_x):
    ax = axes_px(*ax_box)
    ax.set_xlim(*xlim)
    ax.set_ylim(-0.1, 0.7)
    ax.fill_betweenx(dpi_, dleft, dright, color=RED, lw=0, zorder=2)
    zi, pi = zip(*points)
    ax.scatter(zi, pi, s=255, c=RED, linewidths=0, zorder=2, clip_on=False)
    ax.axhline(0.62, color='k', ls=(0, (2, 2)), lw=1.6, zorder=3)
    ax.axvline(2.5, color='#333333', ls=(0, (2, 2)), lw=1.6, zorder=3)
    for s in ax.spines.values():
        s.set_linewidth(3.2)
    ax.set_xticks(xticks)
    ax.set_xticklabels([('%g' % v).replace('-', '\u2212') for v in xticks])
    yt = np.arange(-0.1, 0.71, 0.1)
    ax.set_yticks(yt)
    ax.set_yticklabels([('%.1f' % v if abs(v) > 1e-9 else '0').replace('-', '\u2212') for v in yt])
    ax.tick_params(direction='in', length=12, width=3, labelsize=27, pad=10)
    ax.tick_params(axis='x', labelsize=26, pad=12)
    for lb in ax.get_xticklabels() + ax.get_yticklabels():
        lb.set_fontweight('bold')
    ax.get_yticklabels()[0].set_va('bottom')
    bw, bh = ax_box[2] - ax_box[0], ax_box[3] - ax_box[1]
    ax.set_xlabel('Zi', fontsize=29, fontweight='bold')
    ax.xaxis.set_label_coords(lab_x, -(1945 - ax_box[3]) / bh, ax.transAxes)
    ax.set_ylabel('Pi', fontsize=29, fontweight='bold')
    ax.yaxis.set_label_coords(-(ax_box[0] - pi_x) / bw, 0.5, ax.transAxes)
    return ax


box_e = (1134, 1065, 1982, 1887)
box_f = (2135, 1065, 2981, 1887)
ax_e = zipi(box_e, (-3.46, 3), [-3, -2.5, -2, -1.5, -1, -.5, 0, .5, 1, 1.5, 2, 2.5, 3],
            e_points, e_dense_pi, e_dense_left, e_dense_right, (1557 - 1134) / 848, 1054)
t(1127, 1917, '\u22123.5', 26, 'bold', ha='center')
ax_f = zipi(box_f, (-3, 3), [-3, -2.5, -2, -1.5, -1, -.5, 0, .5, 1, 1.5, 2, 2.5, 3],
            f_points, f_dense_pi, f_dense_left, f_dense_right, 0.5, 2057)
ax_f.scatter(f_conn_zi, f_conn_pi, s=170, c=CYAN, linewidths=0, zorder=4)
ax_f.add_patch(Ellipse((-.6, .623), 1.5, .1385, fill=False, edgecolor='k', lw=6.5, ls=(0, (3.2, 1.4)), zorder=5))

for (x0, x1, n) in [(1152, 1969, 0), (2153, 2969, 1)]:
    t(x0, 1105, 'Connectors', 24, 'bold')
    t(x1, 1105, 'Network hubs', 24, 'bold', ha='right')
    t(x0, 1832, 'Peripherals', 24, 'bold')
    t(x1, 1832, 'Module hubs', 24, 'bold', ha='right')

# peripherals / connectors legend
ov.scatter([3035], [1746], s=(2 * 19 * .72) ** 2, c=RED, linewidths=0)
ov.scatter([3035], [1851], s=(2 * 19 * .72) ** 2, c=CYAN, linewidths=0)
t(3074, 1746, 'Peripherals', 31, family='Liberation Sans', color='#222222')
t(3074, 1851, 'Connectors', 31, family='Liberation Sans', color='#222222')

# stacked bars
ax_g = axes_px(274, 2202, 2011, 3351)
x = np.arange(len(samples))
bottom = np.zeros(len(samples))
for vals, col in zip(pheno_values, bar_colors):
    ax_g.bar(x, vals, width=0.687, bottom=bottom, color=col, linewidth=0, zorder=2)
    bottom = bottom + np.array(vals)
ax_g.set_xlim(-0.49, 7.516)
ax_g.set_ylim(0, 1)
for s in ax_g.spines.values():
    s.set_linewidth(4.4)
    s.set_zorder(4)
ax_g.set_xticks(x)
ax_g.set_xticklabels(samples)
ax_g.set_yticks([0, .2, .4, .6, .8, 1])
ax_g.set_yticklabels(['0', '0.2', '0.4', '0.6', '0.8', '1'])
ax_g.tick_params(direction='in', length=12, width=3.5, labelsize=38, pad=10)
ax_g.tick_params(axis='x', labelsize=40, pad=14)
ax_g.set_ylabel('Relative abundance', fontsize=46)
ax_g.yaxis.set_label_coords((172 - 274) / (2011 - 274), 0.497)
t(1533, 2099, 'Variations in composition of Phenotypes', 47, ha='center')

for k, (name, col) in enumerate(zip(phenotypes, legend_colors)):
    yc = 2229 + 85.75 * k
    ov.add_patch(Rectangle((2040, yc - 32), 63, 63, facecolor='#E2E2E2', edgecolor='none'))
    ov.add_patch(Rectangle((2050, yc - 22), 45, 44, facecolor=col, edgecolor='none'))
    t(2103, yc + 3, name, 47)

fig.savefig('out.png', dpi=100, facecolor='white')
